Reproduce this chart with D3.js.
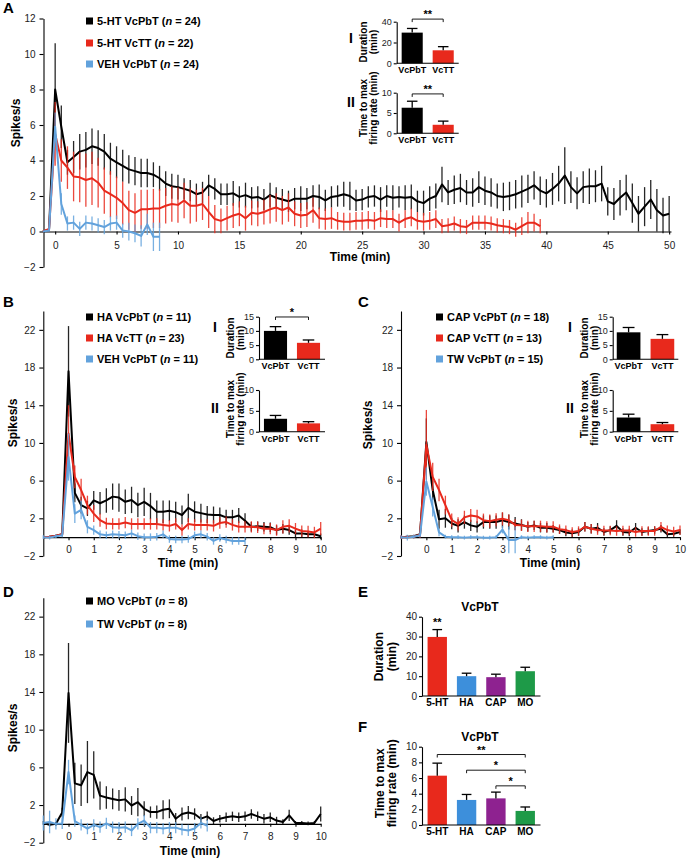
<!DOCTYPE html>
<html>
<head>
<meta charset="utf-8">
<script src="https://cdn.jsdelivr.net/npm/d3@7"></script>
<style>
  body { margin: 0; background: #fff; }
  svg { font-family: "Liberation Sans", Arial, sans-serif; }
</style>
</head>
<body>
<svg id="fig" width="688" height="858"></svg>
<script>
// ---------- data ----------
// panel A : 0.5 min bins starting at -1 min
const aStart = -1, aStep = 0.5;
const aBlack = [0, 0.1, 8.0, 5.9, 3.9, 4.2, 4.5, 4.6, 4.8, 4.7,
  4.5, 4.1, 3.9, 3.7, 3.5, 3.4, 3.3, 3.3, 3.2, 3.0,
  2.7, 2.55, 2.5, 2.4, 2.3, 2.1, 2.2, 2.6, 2.4, 2.1,
  2.1, 2.15, 1.95, 2.05, 1.9, 1.95, 1.8, 2.05, 1.9, 1.8,
  1.7, 1.85, 1.85, 1.85, 2.0, 1.95, 1.75, 1.95, 2.0, 2.1,
  2.0, 1.75, 1.8, 1.95, 2.0, 1.8, 2.0, 1.9, 1.95, 1.9,
  1.95, 1.7, 1.6, 1.85, 2.0, 2.65, 2.2, 2.35, 2.45, 2.2,
  2.2, 2.5, 2.3, 2.2, 2.0, 1.95, 2.0, 2.1, 2.25, 2.4,
  2.6, 2.3, 2.15, 2.4, 2.7, 3.15, 2.5, 2.15, 2.5, 2.55,
  2.55, 2.7, 1.7, 1.55, 1.9, 2.2, 1.6, 1.0, 1.4, 1.8,
  1.2, 0.9, 1.0];
const aBlackErr = [0, 0.1, 2.6, 1.2, 0.7, 0.9, 1.0, 1.0, 1.0, 1.0,
  1.0, 0.9, 0.9, 0.9, 0.8, 0.8, 0.8, 0.8, 0.7, 0.7,
  0.7, 0.7, 0.7, 0.6, 0.6, 0.6, 0.6, 0.6, 0.6, 0.6,
  0.6, 0.7, 0.6, 0.7, 0.6, 0.6, 0.6, 0.7, 0.6, 0.6,
  0.6, 0.6, 0.7, 0.6, 0.6, 0.7, 0.6, 0.6, 0.6, 0.7,
  0.8, 0.6, 0.6, 0.6, 0.6, 0.7, 0.6, 0.7, 0.6, 0.7,
  0.7, 0.6, 0.7, 0.7, 0.7, 1.0, 0.7, 0.8, 0.8, 0.7,
  0.8, 0.9, 0.8, 0.8, 0.7, 0.8, 0.8, 0.8, 0.9, 0.8,
  0.8, 0.8, 0.8, 0.9, 1.0, 1.6, 0.9, 0.9, 0.9, 1.0,
  0.9, 1.0, 0.8, 0.9, 1.0, 1.0, 1.1, 1.0, 1.1, 1.1,
  1.2, 1.0, 1.0];
const aRed = [0, 0.15, 5.5, 4.0, 3.6, 3.1, 3.05, 2.9, 3.0, 2.75,
  2.3, 2.1, 1.9, 1.6, 1.2, 1.05, 1.25, 1.25, 1.3, 1.3,
  1.45, 1.55, 1.5, 1.75, 1.45, 1.45, 1.55, 1.1, 0.7, 0.6,
  0.75, 0.9, 1.0, 0.75, 1.05, 1.0, 1.1, 1.25, 1.35, 1.2,
  1.35, 1.0, 0.9, 0.95, 1.2, 0.75, 0.7, 0.75, 0.6, 0.55,
  0.55, 0.6, 0.6, 0.65, 0.6, 0.75, 0.7, 0.7, 0.5, 0.7,
  0.8, 0.6, 0.55, 0.6, 0.7, 0.3, 0.35, 0.45, 0.3, 0.25,
  0.5, 0.5, 0.5, 0.45, 0.35, 0.3, 0.25, 0.1, 0.3, 0.5,
  0.5, 0.3];
const aRedErr = [0, 0.15, 1.8, 1.2, 1.2, 1.4, 1.4, 1.5, 1.5, 1.4,
  1.3, 1.3, 1.2, 1.2, 1.1, 1.1, 1.1, 1.1, 1.1, 1.1,
  1.0, 1.0, 1.0, 1.0, 1.0, 0.9, 0.9, 0.9, 0.8, 0.7,
  0.7, 0.7, 0.7, 0.7, 0.7, 0.7, 0.7, 0.8, 0.8, 0.8,
  0.8, 0.7, 0.7, 0.7, 0.7, 0.6, 0.6, 0.6, 0.5, 0.5,
  0.5, 0.5, 0.5, 0.5, 0.5, 0.5, 0.5, 0.5, 0.5, 0.5,
  0.5, 0.5, 0.5, 0.5, 0.5, 0.4, 0.4, 0.4, 0.4, 0.4,
  0.4, 0.4, 0.4, 0.4, 0.4, 0.4, 0.4, 0.4, 0.5, 0.6,
  0.5, 0.4];
const aBlue = [0, 0.05, 5.9, 1.55, 0.45, 0.5, 0.15, 0.5, 0.45, 0.35,
  0.25, 0.45, 0.5, 0.05, 0.0, -0.1, -0.25, 0.4, -0.3, -0.3];
const aBlueErr = [0, 0.05, 0.8, 0.6, 0.4, 0.4, 0.4, 0.4, 0.4, 0.4,
  0.4, 0.4, 0.4, 0.4, 0.5, 0.5, 0.6, 0.6, 0.8, 0.8];
const aLegend = ["5-HT VcPbT", "5-HT VcTT", "VEH VcPbT"];
const aN = [24, 22, 24];
const aXTicks = [0, 5, 10, 15, 20, 25, 30, 35, 40, 45, 50];
const aYTicks = [-2, 0, 2, 4, 6, 8, 10, 12];

// panels B, C, D : 0.25 min bins starting at -1 min
const bcdStart = -1, bcdStep = 0.25;
const bcdXTicks = [0, 1, 2, 3, 4, 5, 6, 7, 8, 9, 10];
const bcdYTicks = [-2, 2, 6, 10, 14, 18, 22];

const bBlack = [0, 0.05, 0.15, 0.3, 17.6, 4.7, 3.4, 3.05, 3.9, 3.6,
  3.9, 4.3, 4.2, 3.75, 3.95, 3.4, 3.75, 3.3, 2.7, 2.7,
  2.8, 2.65, 2.35, 3.1, 2.7, 2.55, 2.4, 2.35, 2.35, 2.1,
  2.1, 2.3, 1.75, 1.1, 1.15, 1.1, 1.05, 0.75, 0.9, 0.75,
  0.4, 0.4, 0.3, 0.3, 0.1];
const bBlackErr = [0, 0.1, 0.1, 0.2, 4.8, 1.0, 0.9, 0.8, 1.0, 1.2,
  1.3, 1.4, 1.5, 1.3, 1.4, 1.3, 1.5, 1.4, 1.2, 1.2,
  1.1, 1.1, 1.0, 1.5, 1.1, 1.0, 0.9, 0.9, 0.8, 0.8,
  0.8, 0.8, 0.8, 0.5, 0.5, 0.5, 0.5, 0.5, 0.5, 0.5,
  0.4, 0.4, 0.3, 0.3, 0.3];
const bRed = [0, 0.05, 0.15, 0.3, 11.0, 6.4, 5.0, 3.4, 2.5, 1.8,
  1.45, 1.4, 1.4, 1.55, 1.4, 1.4, 1.4, 1.4, 1.4, 1.3,
  1.2, 1.4, 0.75, 1.4, 1.3, 1.3, 1.3, 1.2, 1.5, 1.6,
  1.3, 1.1, 1.1, 1.1, 1.05, 0.9, 0.9, 0.75, 1.1, 1.2,
  0.9, 0.65, 0.6, 0.5, 0.9];
const bRedErr = [0, 0.1, 0.1, 0.2, 3.0, 1.2, 1.2, 1.0, 0.9, 0.7,
  0.6, 0.6, 0.6, 0.6, 0.6, 0.6, 0.6, 0.6, 0.6, 0.6,
  0.6, 0.6, 0.6, 0.6, 0.6, 0.6, 0.6, 0.6, 0.6, 0.6,
  0.6, 0.6, 0.6, 0.6, 0.6, 0.6, 0.6, 0.6, 0.7, 0.7,
  0.6, 0.6, 0.6, 0.6, 0.7];
const bBlue = [0, -0.05, 0.1, 0.2, 8.5, 2.5, 2.9, 1.1, 0.75, 0.3,
  0.2, 0.3, 0.25, 0.2, 0.4, 0.1, 0.0, 0.0, 0.05, 0.3,
  -0.2, -0.25, -0.25, -0.2, 0.2, 0.3, 0.05, -0.4, -0.1, -0.25,
  -0.4, -0.4, -0.4];
const bBlueErr = [0.2, 0.2, 0.2, 0.2, 2.5, 1.0, 1.0, 0.7, 0.5, 0.4,
  0.4, 0.4, 0.4, 0.4, 0.4, 0.4, 0.4, 0.4, 0.4, 0.4,
  0.4, 0.4, 0.4, 0.4, 0.4, 0.4, 0.4, 0.4, 0.4, 0.4,
  0.4, 0.4, 0.4];
const bLegend = ["HA VcPbT", "HA VcTT", "VEH VcPbT"];
const bN = [11, 23, 11];

const cBlack = [0, 0.05, 0.1, 0.3, 10.1, 5.0, 1.9, 2.0, 1.45, 1.2,
  1.6, 1.25, 1.1, 1.6, 1.6, 1.6, 1.8, 1.6, 1.45, 1.3,
  1.1, 1.25, 1.0, 1.0, 0.9, 0.75, 0.5, 0.4, 0.55, 1.1,
  0.9, 1.0, 0.55, 0.75, 1.2, 0.55, 0.5, 1.0, 0.55, 0.65,
  0.75, 0.9, 0.3, 0.35, 0.55];
const cBlackErr = [0.1, 0.1, 0.1, 0.2, 2.5, 1.0, 1.0, 1.0, 0.6, 0.7,
  0.7, 0.6, 0.6, 0.7, 0.7, 0.7, 0.8, 0.8, 0.7, 0.6,
  0.5, 0.5, 0.5, 0.5, 0.4, 0.4, 0.4, 0.4, 0.4, 0.5,
  0.5, 0.5, 0.4, 0.4, 0.6, 0.4, 0.4, 0.5, 0.4, 0.4,
  0.4, 0.4, 0.3, 0.3, 0.3];
const cRed = [0, 0.0, 0.05, 0.25, 9.8, 6.4, 5.0, 3.4, 1.8, 1.4,
  2.1, 2.3, 2.2, 1.8, 1.7, 1.85, 1.95, 1.8, 1.3, 1.25,
  1.15, 1.15, 1.15, 1.1, 1.1, 0.85, 0.75, 0.55, 0.65, 1.1,
  0.9, 0.75, 0.7, 0.7, 0.65, 0.7, 0.7, 0.55, 0.65, 0.65,
  0.65, 1.1, 0.75, 0.6, 0.75];
const cRedErr = [0.2, 0.2, 0.2, 0.3, 3.7, 1.5, 1.2, 1.0, 0.7, 0.7,
  0.7, 0.7, 0.7, 0.7, 0.7, 0.7, 0.7, 0.6, 0.6, 0.6,
  0.6, 0.6, 0.6, 0.6, 0.6, 0.5, 0.5, 0.5, 0.5, 0.5,
  0.5, 0.5, 0.5, 0.5, 0.5, 0.5, 0.5, 0.5, 0.5, 0.5,
  0.5, 0.5, 0.5, 0.5, 0.5];
const cBlue = [0, -0.05, 0.05, 0.2, 5.9, 3.2, 0.5, 0.05, 0.0, 0.0,
  -0.05, 0.0, 0.0, -0.05, -0.05, 0.0, 0.8, -0.3, -0.3, 0.0,
  -0.05, 0.0, 0.0, -0.05, 0.0];
const cBlueErr = [0.2, 0.3, 0.2, 0.2, 1.5, 1.0, 0.4, 0.2, 0.2, 0.2,
  0.2, 0.2, 0.2, 0.2, 0.2, 0.2, 0.4, 1.4, 1.4, 0.2,
  0.2, 0.2, 0.2, 0.2, 0.2];
const cLegend = ["CAP VcPbT", "CAP VcTT", "TW VcPbT"];
const cN = [18, 13, 15];

const dBlack = [0.1, -0.1, 0.0, 1.2, 13.9, 4.3, 4.1, 5.5, 5.2, 3.0,
  2.8, 2.65, 2.5, 2.6, 1.95, 2.3, 1.6, 1.25, 1.25, 1.5,
  1.6, 0.55, 1.05, 1.2, 1.05, 0.55, 0.8, 0.3, 0.55, 0.7,
  0.8, 0.7, 0.8, 1.05, 0.8, 0.55, 0.7, 0.35, 0.2, 0.9,
  0.1, 0.1, 0.05, 0.1, 1.05];
const dBlackErr = [0.2, 0.2, 0.2, 0.5, 5.3, 2.2, 2.2, 3.3, 2.5, 1.5,
  1.2, 1.1, 1.1, 1.3, 1.0, 1.5, 0.8, 0.6, 0.7, 1.0,
  1.0, 0.6, 0.7, 0.7, 0.6, 0.5, 0.5, 0.4, 0.4, 0.5,
  0.5, 0.5, 0.5, 0.5, 0.5, 0.5, 0.5, 0.4, 0.3, 0.6,
  0.2, 0.2, 0.2, 0.2, 0.8];
const dBlue = [0.1, 0.2, 0.0, 0.05, 5.5, 0.3, -0.1, -0.5, -0.1, -0.35,
  0.05, -0.35, -0.4, -0.35, -0.7, 0.0, 0.35, -0.4, -0.4, -0.5,
  -0.4, -0.4, -0.6, -0.7, -0.5, 0.1, -0.2];
const dBlueErr = [0.8, 1.2, 0.6, 0.6, 1.3, 0.6, 0.6, 0.6, 0.6, 0.6,
  0.6, 0.6, 0.6, 0.6, 0.6, 0.6, 0.6, 0.6, 0.6, 0.6,
  0.6, 0.6, 0.6, 0.6, 0.6, 0.6, 0.6];
const dLegend = ["MO VcPbT", "TW VcPbT"];
const dN = [8, 8];

// inset bar charts (I = duration, II = time to max firing rate)
const insetGroups = ["VcPbT", "VcTT"];
const aDur = [29.5, 12.5], aDurErr = [4.0, 3.5];
const aTmax = [6.3, 2.1], aTmaxErr = [1.6, 0.9];
const bDur = [10.0, 5.8], bDurErr = [1.5, 1.0];
const bTmax = [3.1, 2.0], bTmaxErr = [0.8, 0.4];
const cDur = [9.5, 7.2], cDurErr = [1.7, 1.5];
const cTmax = [3.4, 1.8], cTmaxErr = [0.8, 0.4];

// panels E, F
const drugs = ["5-HT", "HA", "CAP", "MO"];
const eDur = [29.8, 10.0, 9.5, 12.5], eDurErr = [3.7, 1.5, 1.5, 2.0];
const fTmax = [6.3, 3.2, 3.4, 1.8], fTmaxErr = [1.6, 0.7, 0.8, 0.5];

// ---------- drawing ----------
const BLACK = "#000", RED = "#e8291c", BLUE = "#62a2dc";
const drugColors = ["#e8291c", "#3d8fdb", "#8e2290", "#1e9a48"];
const svg = d3.select("#fig");

function styleAxis(g, size) {
  g.attr("font-family", null).attr("font-size", size);
  g.selectAll("text").attr("fill", "#222");
  g.selectAll("path,line").attr("stroke", "#000").attr("stroke-width", 1.1);
}

function label(x, y, str, size, weight, anchor) {
  return svg.append("text").attr("x", x).attr("y", y)
    .attr("font-size", size).attr("font-weight", weight || "bold")
    .attr("text-anchor", anchor || "middle").text(str);
}

function vlabel(x, y, str, size) {
  svg.append("text")
    .attr("transform", `translate(${x},${y}) rotate(-90)`)
    .attr("dy", "0.35em").attr("text-anchor", "middle")
    .attr("font-size", size).attr("font-weight", "bold").text(str);
}

function legend(x, ys, names, ns, colors) {
  names.forEach((nm, i) => {
    svg.append("rect").attr("x", x).attr("y", ys[i] - 3.5)
      .attr("width", 7).attr("height", 7).attr("fill", colors[i]);
    const t = svg.append("text").attr("x", x + 11).attr("y", ys[i] + 4)
      .attr("font-size", 11).attr("font-weight", "bold");
    t.append("tspan").text(nm + " (");
    t.append("tspan").attr("font-style", "italic").text("n");
    t.append("tspan").text(" = " + ns[i] + ")");
  });
}

function tracePanel(p) {
  const x = d3.scaleLinear().domain(p.xDom).range(p.xRng);
  const y = d3.scaleLinear().domain(p.yDom).range(p.yRng);
  const g = svg.append("g");

  g.append("g").attr("transform", `translate(${p.xRng[0]},0)`)
    .call(d3.axisLeft(y).tickValues(p.yTicks).tickSize(4).tickSizeOuter(0).tickPadding(4))
    .call(a => styleAxis(a, 10));
  g.append("g").attr("transform", `translate(0,${y(0)})`)
    .call(d3.axisBottom(x).tickValues(p.xTicks).tickSize(3).tickSizeOuter(0).tickPadding(p.xPad))
    .call(a => styleAxis(a, 10));

  p.series.forEach(s => {
    const pts = s.vals.map((v, i) => ({ t: p.start + i * p.step, v: v, e: s.err[i] }));
    g.append("g").selectAll("line").data(pts).join("line")
      .attr("x1", d => x(d.t)).attr("x2", d => x(d.t))
      .attr("y1", d => y(d.v - d.e)).attr("y2", d => y(d.v + d.e))
      .attr("stroke", s.color).attr("stroke-width", 1.3).attr("stroke-opacity", 0.85);
    g.append("path").datum(pts)
      .attr("d", d3.line().x(d => x(d.t)).y(d => y(d.v)))
      .attr("fill", "none").attr("stroke", s.color)
      .attr("stroke-width", 2).attr("stroke-linejoin", "round");
  });
}

function barChart(p) {
  const x = d3.scaleBand().domain(p.cats).range(p.xr)
    .paddingInner(p.pin).paddingOuter(p.pout);
  const y = d3.scaleLinear().domain(p.yDom).range(p.yr);
  const g = svg.append("g");
  const bw = x.bandwidth();

  g.selectAll("rect").data(p.vals).join("rect")
    .attr("x", (d, i) => x(p.cats[i])).attr("width", bw)
    .attr("y", d => y(d)).attr("height", d => y(0) - y(d))
    .attr("fill", (d, i) => p.colors[i]);

  const eb = g.append("g").attr("stroke", "#000").attr("stroke-width", 1.3);
  p.vals.forEach((v, i) => {
    const cx = x(p.cats[i]) + bw / 2;
    const col = i === 0 || p.colors[i] !== "#000" ? "#000" : "#000";
    eb.append("line").attr("x1", cx).attr("x2", cx).attr("y1", y(v)).attr("y2", y(v + p.errs[i])).attr("stroke", col);
    eb.append("line").attr("x1", cx - bw * 0.25).attr("x2", cx + bw * 0.25)
      .attr("y1", y(v + p.errs[i])).attr("y2", y(v + p.errs[i])).attr("stroke", col);
  });

  g.append("g").attr("transform", `translate(${p.xr[0]},0)`)
    .call(d3.axisLeft(y).tickValues(p.ticks).tickSize(3).tickSizeOuter(0).tickPadding(2))
    .call(a => styleAxis(a, p.tickFont));
  g.append("line").attr("x1", p.xr[0]).attr("x2", p.xr[1])
    .attr("y1", y(0)).attr("y2", y(0)).attr("stroke", "#000").attr("stroke-width", 1.1);

  p.cats.forEach(c => {
    g.append("text").attr("x", x(c) + bw / 2).attr("y", y(0) + p.labDy)
      .attr("text-anchor", "middle").attr("font-size", p.labFont)
      .attr("font-weight", "bold").text(c);
  });

  (p.sig || []).forEach(s => {
    const xa = x(p.cats[s.a]) + bw / 2, xb = x(p.cats[s.b]) + bw / 2;
    const yy = y(s.at);
    g.append("path").attr("d", `M${xa},${yy + 3}V${yy}H${xb}V${yy + 3}`)
      .attr("fill", "none").attr("stroke", "#000").attr("stroke-width", 0.9);
    g.append("text").attr("x", (xa + xb) / 2).attr("y", yy - 1)
      .attr("text-anchor", "middle").attr("font-size", 11).attr("font-weight", "bold").text(s.text);
  });
  (p.stars || []).forEach(s => {
    const cx = x(p.cats[s.i]) + bw / 2;
    g.append("text").attr("x", cx).attr("y", y(s.at))
      .attr("text-anchor", "middle").attr("font-size", 11).attr("font-weight", "bold").text(s.text);
  });
}

// ----- Panel A -----
label(3, 13, "A", 15, "bold", "start");
tracePanel({
  xDom: [-0.95, 50.15], xRng: [43.5, 671], yDom: [-2, 12], yRng: [267, 18.5],
  xTicks: aXTicks, yTicks: aYTicks, xPad: 7, start: aStart, step: aStep,
  series: [
    { vals: aBlack, err: aBlackErr, color: BLACK },
    { vals: aRed, err: aRedErr, color: RED },
    { vals: aBlue, err: aBlueErr, color: BLUE }
  ]
});
vlabel(16, 123, "Spikes/s", 12);
label(360, 261, "Time (min)", 12);
legend(86, [21, 43, 64], aLegend, aN, [BLACK, RED, BLUE]);

label(351, 43, "I", 14);
vlabel(363, 42, "Duration", 10);
vlabel(373, 42, "(min)", 10);
barChart({
  cats: insetGroups, vals: aDur, errs: aDurErr, colors: [BLACK, RED],
  xr: [396.7, 458.7], pin: 0.32, pout: 0.16, yDom: [0, 40], yr: [63.3, 21.7],
  ticks: [0, 20, 40], tickFont: 9, labFont: 9, labDy: 10,
  sig: [{ a: 0, b: 1, at: 42.5, text: "**" }]
});
label(351, 107, "II", 14);
vlabel(363, 108, "Time to max", 10);
vlabel(373, 108, "firing rate (min)", 10);
barChart({
  cats: insetGroups, vals: aTmax, errs: aTmaxErr, colors: [BLACK, RED],
  xr: [396.7, 458.7], pin: 0.32, pout: 0.16, yDom: [0, 10], yr: [133.3, 92.7],
  ticks: [0, 5, 10], tickFont: 9, labFont: 9, labDy: 10,
  sig: [{ a: 0, b: 1, at: 9.7, text: "**" }]
});

// ----- Panel B -----
label(3, 307, "B", 15, "bold", "start");
tracePanel({
  xDom: [-1, 10], xRng: [43.3, 320.7], yDom: [-2, 24], yRng: [556, 311],
  xTicks: bcdXTicks, yTicks: bcdYTicks, xPad: 6, start: bcdStart, step: bcdStep,
  series: [
    { vals: bBlack, err: bBlackErr, color: BLACK },
    { vals: bRed, err: bRedErr, color: RED },
    { vals: bBlue, err: bBlueErr, color: BLUE }
  ]
});
vlabel(13, 423, "Spikes/s", 12);
label(188, 567, "Time (min)", 12);
legend(86, [317, 338, 359], bLegend, bN, [BLACK, RED, BLUE]);

label(215, 332, "I", 14);
vlabel(230, 338, "Duration", 10);
vlabel(240, 338, "(min)", 10);
barChart({
  cats: insetGroups, vals: bDur, errs: bDurErr, colors: [BLACK, RED],
  xr: [259, 325], pin: 0.3, pout: 0.15, yDom: [0, 15], yr: [359.3, 316.7],
  ticks: [0, 5, 10, 15], tickFont: 9, labFont: 9, labDy: 10,
  sig: [{ a: 0, b: 1, at: 14.9, text: "*" }]
});
label(215, 413, "II", 14);
vlabel(230, 409, "Time to max", 10);
vlabel(240, 409, "firing rate (min)", 10);
barChart({
  cats: insetGroups, vals: bTmax, errs: bTmaxErr, colors: [BLACK, RED],
  xr: [259, 325], pin: 0.3, pout: 0.15, yDom: [0, 10], yr: [431.7, 390],
  ticks: [0, 5, 10], tickFont: 9, labFont: 9, labDy: 10
});

// ----- Panel C -----
label(358, 307, "C", 15, "bold", "start");
tracePanel({
  xDom: [-1, 10], xRng: [401, 680], yDom: [-2, 24], yRng: [556, 311],
  xTicks: bcdXTicks, yTicks: bcdYTicks, xPad: 6, start: bcdStart, step: bcdStep,
  series: [
    { vals: cBlack, err: cBlackErr, color: BLACK },
    { vals: cRed, err: cRedErr, color: RED },
    { vals: cBlue, err: cBlueErr, color: BLUE }
  ]
});
vlabel(368, 425, "Spikes/s", 12);
label(550, 567, "Time (min)", 12);
legend(436, [317, 338, 359], cLegend, cN, [BLACK, RED, BLUE]);

label(570, 332, "I", 14);
vlabel(584, 338, "Duration", 10);
vlabel(594, 338, "(min)", 10);
barChart({
  cats: insetGroups, vals: cDur, errs: cDurErr, colors: [BLACK, RED],
  xr: [612.7, 678.3], pin: 0.3, pout: 0.12, yDom: [0, 15], yr: [359.3, 316.7],
  ticks: [0, 5, 10, 15], tickFont: 9, labFont: 9, labDy: 10
});
label(570, 413, "II", 14);
vlabel(584, 409, "Time to max", 10);
vlabel(594, 409, "firing rate (min)", 10);
barChart({
  cats: insetGroups, vals: cTmax, errs: cTmaxErr, colors: [BLACK, RED],
  xr: [612.7, 678.3], pin: 0.3, pout: 0.12, yDom: [0, 10], yr: [431.7, 390],
  ticks: [0, 5, 10], tickFont: 9, labFont: 9, labDy: 10
});

// ----- Panel D -----
label(3, 597, "D", 15, "bold", "start");
tracePanel({
  xDom: [-1, 10], xRng: [43.3, 320.7], yDom: [-2, 24], yRng: [842.7, 597.8],
  xTicks: bcdXTicks, yTicks: bcdYTicks, xPad: 6, start: bcdStart, step: bcdStep,
  series: [
    { vals: dBlack, err: dBlackErr, color: BLACK },
    { vals: dBlue, err: dBlueErr, color: BLUE }
  ]
});
vlabel(13, 728, "Spikes/s", 12);
label(190, 855, "Time (min)", 12);
legend(86, [601, 624], dLegend, dN, [BLACK, BLUE]);

// ----- Panel E -----
label(358, 597, "E", 15, "bold", "start");
label(480, 611, "VcPbT", 12);
vlabel(378.3, 656.7, "Duration", 12);
vlabel(391.7, 656.7, "(min)", 12);
barChart({
  cats: drugs, vals: eDur, errs: eDurErr, colors: drugColors,
  xr: [422, 540.5], pin: 0.34, pout: 0.19, yDom: [0, 40], yr: [696, 616.7],
  ticks: [0, 10, 20, 30, 40], tickFont: 10, labFont: 10, labDy: 10,
  stars: [{ i: 0, at: 35.5, text: "**" }]
});

// ----- Panel F -----
label(358, 732, "F", 15, "bold", "start");
label(480, 741, "VcPbT", 12);
vlabel(379.3, 783.3, "Time to max", 12);
vlabel(391.7, 783.3, "firing rate (min)", 12);
barChart({
  cats: drugs, vals: fTmax, errs: fTmaxErr, colors: drugColors,
  xr: [422, 540.5], pin: 0.34, pout: 0.19, yDom: [0, 10], yr: [825, 746.7],
  ticks: [0, 2, 4, 6, 8, 10], tickFont: 10, labFont: 10, labDy: 10,
  sig: [
    { a: 0, b: 3, at: 9.0, text: "**" },
    { a: 1, b: 3, at: 7.0, text: "*" },
    { a: 2, b: 3, at: 5.0, text: "*" }
  ]
});
</script>
</body>
</html>
